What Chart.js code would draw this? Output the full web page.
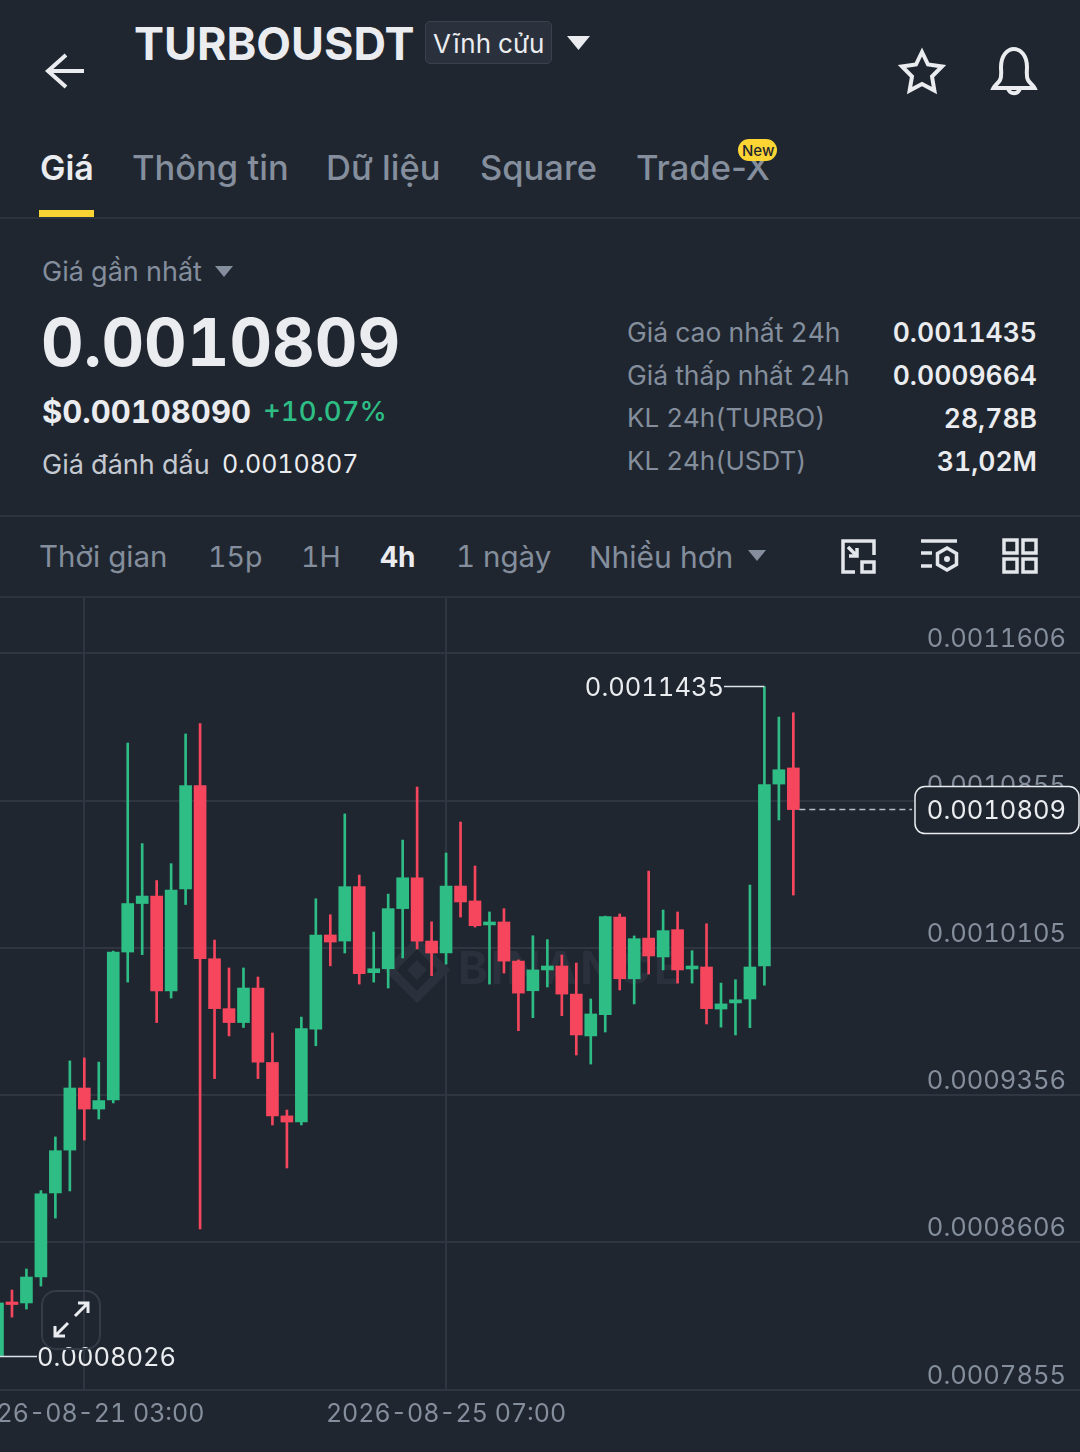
<!DOCTYPE html>
<html lang="vi">
<head>
<meta charset="utf-8">
<script src="https://cdn.jsdelivr.net/npm/chart.js@4"></script>
<style>
  html, body { margin: 0; padding: 0; background: #1f2630; }
  body { position: relative; width: 1080px; height: 1452px; overflow: hidden; font-family: Inter, "Noto Sans", sans-serif; color: #eaecef; font-variant-numeric: tabular-nums; }
  .t { position: absolute; white-space: nowrap; line-height: 1; transform: translateY(-50%); }
  .g { color: #848e9c; }
  .b { font-weight: 700; }
  .m { font-weight: 500; }
  .s { font-weight: 600; }
  .line { position: absolute; left: 0; width: 1080px; height: 2px; background: #2c333e; }
  #mainCanvas { position: absolute; left: 0; top: 598px; }
  svg { position: absolute; left: 0; top: 0; }
</style>
</head>
<body>
<div class="t b" style="left:134px;top:43px;font-size:45px">TURBOUSDT</div>
<div style="position:absolute;left:425px;top:21px;width:125px;height:41px;background:#2a313c;border:1px solid #3a424e;border-radius:5px"></div>
<div class="t" style="left:433px;top:44px;font-size:26px">Vĩnh cửu</div>

<div class="t s" style="left:40px;top:168px;font-size:34px">Giá</div>
<div class="t g m" style="left:132px;top:168px;font-size:34.500px">Thông tin</div>
<div class="t g m" style="left:326px;top:168px;font-size:34.500px">Dữ liệu</div>
<div class="t g m" style="left:480px;top:168px;font-size:34.500px">Square</div>
<div class="t g m" style="left:636px;top:168px;font-size:34.500px;font-variant-numeric:normal">Trade-X</div>
<div style="position:absolute;left:738px;top:139px;width:39px;height:22px;border-radius:11px;background:#fcd535"></div>
<div class="t" style="left:742px;top:150px;font-size:15px;color:#1f2630;font-weight:500">New</div>
<div style="position:absolute;left:39px;top:210px;width:55px;height:7px;background:#fcd535"></div>
<div class="line" style="top:217px"></div>

<div class="t g" style="left:42px;top:271px;font-size:27px">Giá gần nhất</div>
<div class="t b" style="left:41px;top:342px;font-size:66px">0.0010809</div>
<div class="t b" style="left:42px;top:411px;font-size:31px">$0.00108090</div>
<div class="t m" style="left:263px;top:412px;font-size:27.500px;color:#2ebd85">+10.07%</div>
<div class="t" style="left:42px;top:464px;font-size:27px;color:#c4c9d1">Giá đánh dấu</div>
<div class="t" style="left:222px;top:464px;font-size:25px;color:#eaecef">0.0010807</div>

<div class="t g" style="left:627px;top:332px;font-size:26.500px">Giá cao nhất 24h</div>
<div class="t g" style="left:627px;top:375px;font-size:26.500px">Giá thấp nhất 24h</div>
<div class="t g" style="left:627px;top:418px;font-size:26px">KL 24h(TURBO)</div>
<div class="t g" style="left:627px;top:461px;font-size:26px">KL 24h(USDT)</div>
<div class="t s" style="right:43px;top:332px;font-size:26.500px">0.0011435</div>
<div class="t s" style="right:43px;top:375px;font-size:26.500px">0.0009664</div>
<div class="t s" style="right:43px;top:418px;font-size:26.500px">28,78B</div>
<div class="t s" style="right:43px;top:461px;font-size:26.500px">31,02M</div>
<div class="line" style="top:515px"></div>

<div class="t g" style="left:39px;top:557px;font-size:29.500px">Thời gian</div>
<div class="t g" style="left:208px;top:557px;font-size:28.500px">15p</div>
<div class="t g" style="left:301px;top:557px;font-size:28.500px">1H</div>
<div class="t b" style="left:380px;top:557px;font-size:28px">4h</div>
<div class="t g" style="left:456px;top:557px;font-size:29.500px">1 ngày</div>
<div class="t g" style="left:589px;top:557px;font-size:30px">Nhiều hơn</div>
<div class="line" style="top:596px"></div>

<svg width="1080" height="598" fill="none" stroke="#eaecef" stroke-width="4">
  <path d="M84 71H48M66 55L48 71L66 87" stroke-width="4" />
  <path d="M922 52l6 12.500 14 2-10 10 2.400 14-12.400-6.600-12.400 6.600 2.400-14-10-10 14-2z" />
  <path d="M1000 80c2-4 1-8 1-13 0-11 6-18 13-18s13 7 13 18c0 5-1 9 1 13 1.500 3 5 5 6.500 8H993.500c1.500-3 5-5 6.500-8z" />
  <path d="M1008 88c1 7 11 7 12 0" />
  <g stroke="none" fill="#eaecef"><path d="M567 36h23l-11.500 14z" /></g>
  <g stroke="none" fill="#848e9c"><path d="M215 266h18l-9 11z" /><path d="M748 550h18l-9 11z" /></g>
  <g stroke="#e3e6ea" stroke-width="3.500">
    <path d="M855 572H843V541H874V555M848 547L857 556M857 548V556H849" />
    <rect x="862" y="562" width="12" height="10" />
    <path d="M921 541H957M921 553H932M921 566H932" />
    <path d="M947 548l9.500 5.500v11l-9.500 5.500-9.500-5.500v-11z" />
    <rect x="1004" y="540" width="13" height="13" /><rect x="1023" y="540" width="13" height="13" />
    <rect x="1004" y="559" width="13" height="13" /><rect x="1023" y="559" width="13" height="13" />
  </g>
  <circle cx="947" cy="559" r="3" fill="#e3e6ea" stroke="none" />
</svg>

<canvas id="mainCanvas" width="1080" height="854"></canvas>

<script>
// TURBOUSDT 4h candles, candle 6 is 2026-08-21 03:00
var opens = [
  0.0008030, 0.0008303, 0.0008298, 0.0008430, 0.0008858, 0.0009076, 0.0009392, 0.0009285,
  0.0009331, 0.0010084, 0.0010331, 0.0010369, 0.0009886, 0.0010405, 0.0010931, 0.0010050,
  0.0009796, 0.0009725, 0.0009901, 0.0009522, 0.0009250, 0.0009219, 0.0009692, 0.0010171,
  0.0010140, 0.0010417, 0.0009979, 0.0009999, 0.0010305, 0.0010462, 0.0010140, 0.0010079,
  0.0010420, 0.0010344, 0.0010222, 0.0010237, 0.0010038, 0.0009887, 0.0009993, 0.0010013,
  0.0009870, 0.0009657, 0.0009765, 0.0010262, 0.0009948, 0.0010155, 0.0010059, 0.0010198,
  0.0009998, 0.0010008, 0.0009794, 0.0009825, 0.0009845, 0.0010013, 0.0010939, 0.0011021
];
var highs = [
  0.0008305, 0.0008364, 0.0008471, 0.0008870, 0.0009143, 0.0009530, 0.0009545, 0.0009524,
  0.0010089, 0.0011148, 0.0010636, 0.0010448, 0.0010534, 0.0011194, 0.0011247, 0.0010145,
  0.0010003, 0.0010003, 0.0009957, 0.0009672, 0.0009280, 0.0009753, 0.0010355, 0.0010274,
  0.0010787, 0.0010476, 0.0010186, 0.0010379, 0.0010654, 0.0010924, 0.0010238, 0.0010588,
  0.0010746, 0.0010522, 0.0010288, 0.0010305, 0.0010044, 0.0010167, 0.0010147, 0.0010069,
  0.0010028, 0.0009845, 0.0010267, 0.0010278, 0.0010166, 0.0010496, 0.0010298, 0.0010288,
  0.0010091, 0.0010228, 0.0009926, 0.0009943, 0.0010425, 0.0011435, 0.0011280, 0.0011302
];
var lows = [
  0.0008026, 0.0008226, 0.0008267, 0.0008384, 0.0008730, 0.0008868, 0.0009127, 0.0009234,
  0.0009316, 0.0009931, 0.0010071, 0.0009725, 0.0009850, 0.0010326, 0.0008675, 0.0009440,
  0.0009657, 0.0009700, 0.0009440, 0.0009204, 0.0008985, 0.0009204, 0.0009607, 0.0010014,
  0.0010079, 0.0009921, 0.0009931, 0.0009901, 0.0010054, 0.0010100, 0.0009964, 0.0010023,
  0.0010262, 0.0010211, 0.0009921, 0.0009977, 0.0009684, 0.0009750, 0.0009906, 0.0009760,
  0.0009560, 0.0009514, 0.0009677, 0.0009891, 0.0009820, 0.0009972, 0.0009993, 0.0009926,
  0.0009926, 0.0009718, 0.0009702, 0.0009662, 0.0009699, 0.0009916, 0.0010756, 0.0010374
];
var closes = [
  0.0008298, 0.0008290, 0.0008430, 0.0008853, 0.0009073, 0.0009392, 0.0009285, 0.0009328,
  0.0010084, 0.0010331, 0.0010369, 0.0009886, 0.0010400, 0.0010931, 0.0010050, 0.0009796,
  0.0009725, 0.0009901, 0.0009524, 0.0009250, 0.0009219, 0.0009694, 0.0010171, 0.0010135,
  0.0010417, 0.0009974, 0.0009999, 0.0010305, 0.0010462, 0.0010140, 0.0010079, 0.0010420,
  0.0010339, 0.0010218, 0.0010237, 0.0010038, 0.0009875, 0.0009993, 0.0010013, 0.0009870,
  0.0009662, 0.0009769, 0.0010264, 0.0009948, 0.0010152, 0.0010064, 0.0010193, 0.0009993,
  0.0010013, 0.0009796, 0.0009820, 0.0009841, 0.0010008, 0.0010936, 0.0011012, 0.0010809
];
var yTicks = [0.0011606, 0.0010855, 0.0010105, 0.0009356, 0.0008606, 0.0007855];
var xTickIndex = [6, 31];
var xTickLabels = ['2026-08-21 03:00', '2026-08-25 07:00'];

var UP = '#2ebd85', DOWN = '#f6465d', BG = '#1f2630', GRID = '#2f3641', AXIS = '#848e9c';
var colors = closes.map(function (c, i) { return c >= opens[i] ? UP : DOWN; });
var wicks = lows.map(function (l, i) { return { x: i, y: [l, highs[i]] }; });
var bodies = opens.map(function (o, i) { return { x: i, y: [o, closes[i]] }; });

var FONT = 'Inter, "Noto Sans", sans-serif';

var overlays = {
  id: 'overlays',
  beforeDatasetsDraw: function (chart) {
    // faint watermark behind the candles
    var c = chart.ctx;
    c.save();
    c.fillStyle = '#2a313c';
    c.translate(417, 372);
    c.rotate(Math.PI / 4);
    c.fillRect(-7, -7, 14, 14);
    c.lineWidth = 9;
    c.strokeStyle = '#2a313c';
    c.strokeRect(-19, -19, 38, 38);
    c.restore();
    c.save();
    c.fillStyle = '#2a313c';
    c.font = '700 45px ' + FONT;
    c.letterSpacing = '3px';
    c.textBaseline = 'middle';
    c.fillText('BINANCE', 458, 372);
    c.restore();
  },
  afterDatasetsDraw: function (chart) {
    var c = chart.ctx, xs = chart.scales.x, ys = chart.scales.y;
    var hi = Math.max.apply(null, highs), lo = Math.min.apply(null, lows);
    var last = closes.length - 1;
    var yHi = ys.getPixelForValue(hi), yLo = ys.getPixelForValue(lo), yNow = ys.getPixelForValue(closes[last]);
    c.save();
    c.font = '400 25.5px ' + FONT;
    c.textBaseline = 'middle';
    c.strokeStyle = '#dfe2e6';
    c.lineWidth = 1.5;
    c.beginPath();
    c.moveTo(724, yHi); c.lineTo(xs.getPixelForValue(highs.indexOf(hi)), yHi);
    c.moveTo(0, yLo); c.lineTo(37, yLo);
    c.stroke();
    c.fillStyle = '#eaecef';
    c.textAlign = 'right';
    c.fillText(hi.toFixed(7), 724, yHi + 2);
    c.textAlign = 'left';
    c.fillText(lo.toFixed(7), 37, yLo + 2);

    // last price
    c.strokeStyle = '#b7bdc6';
    c.setLineDash([6, 4]);
    c.beginPath();
    c.moveTo(xs.getPixelForValue(last) + 6, yNow); c.lineTo(912, yNow);
    c.stroke();
    c.setLineDash([]);
    c.beginPath();
    c.roundRect(915, yNow - 23, 164, 47, 10);
    c.fillStyle = BG;
    c.fill();
    c.strokeStyle = '#eaecef';
    c.stroke();
    c.fillStyle = '#eaecef';
    c.textAlign = 'right';
    c.fillText(closes[last].toFixed(7), 1066, yNow + 2);

    // expand button
    c.beginPath();
    c.roundRect(42, 693, 58, 58, 14);
    c.strokeStyle = '#353c47';
    c.lineWidth = 2;
    c.stroke();
    c.strokeStyle = '#eaecef';
    c.lineWidth = 3;
    c.beginPath();
    c.moveTo(75, 718); c.lineTo(88, 705); c.moveTo(78, 705); c.lineTo(88, 705); c.lineTo(88, 715);
    c.moveTo(68, 725); c.lineTo(55, 738); c.moveTo(55, 728); c.lineTo(55, 738); c.lineTo(65, 738);
    c.stroke();
    c.restore();
  }
};

var ChartObj = new Chart(document.getElementById('mainCanvas'), {
  type: 'bar',
  data: {
    datasets: [
      { label: 'body', data: bodies, backgroundColor: colors, barThickness: 12, grouped: false, order: 1 },
      { label: 'wick', data: wicks, backgroundColor: colors, barThickness: 2, grouped: false, order: 2 }
    ]
  },
  options: {
    responsive: false,
    animation: false,
    layout: { padding: 0 },
    plugins: { legend: { display: false }, tooltip: { enabled: false } },
    scales: {
      x: {
        type: 'linear',
        offset: false,
        min: 0.173,
        max: 74.81,
        afterBuildTicks: function (s) { s.ticks = xTickIndex.map(function (v) { return { value: v }; }); },
        afterFit: function (s) { s.height = 62; s.paddingLeft = 0; s.paddingRight = 0; },
        grid: { color: GRID, lineWidth: 2, drawTicks: false, offset: false },
        border: { display: false },
        ticks: {
          color: AXIS,
          font: { family: FONT, size: 25 },
          padding: 9,
          maxRotation: 0,
          autoSkip: false,
          callback: function (v) { return xTickLabels[xTickIndex.indexOf(v)]; }
        }
      },
      y: {
        position: 'right',
        min: 0.0007855,
        max: 0.0011886,
        afterBuildTicks: function (s) { s.ticks = yTicks.map(function (v) { return { value: v }; }); },
        afterFit: function (s) { s.width = 0; s.paddingTop = 0; s.paddingBottom = 0; },
        grid: { color: GRID, lineWidth: 2, drawTicks: false },
        border: { display: false },
        ticks: {
          mirror: true,
          color: AXIS,
          font: { family: FONT, size: 25.5 },
          padding: -14,
          labelOffset: -14,
          callback: function (v) { return v.toFixed(7); }
        }
      }
    }
  },
  plugins: [overlays]
});
</script>
</body>
</html>
